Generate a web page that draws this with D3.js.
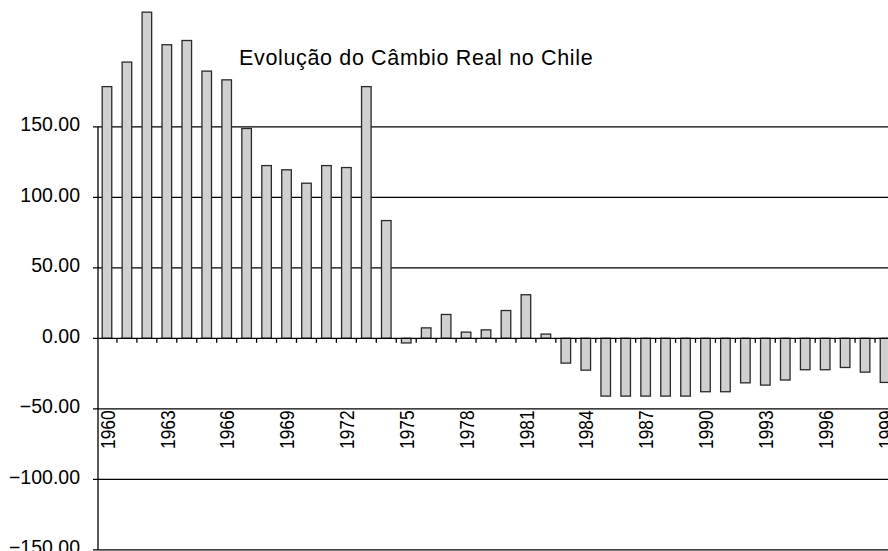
<!DOCTYPE html>
<html>
<head>
<meta charset="utf-8">
<script src="https://cdn.jsdelivr.net/npm/d3@7"></script>
<style>
  html, body { margin: 0; padding: 0; background: #fff; }
  svg { display: block; }
  text { font-family: "Liberation Sans", Arial, Helvetica, sans-serif; fill: #000; }
</style>
</head>
<body>
<svg id="chart" width="888" height="551"></svg>
<script>
const title = "Evolução do Câmbio Real no Chile";
const years = d3.range(1960, 2000);
const values = [
  178.5, 195.9, 231.3, 208.2, 211.2, 189.5, 183.3, 148.8, 122.5, 119.5,
  110.0, 122.5, 121.1, 178.5, 83.5, -3.3, 7.4, 16.9, 4.4, 6.0,
  19.7, 30.9, 3.0, -17.6, -22.6, -41.0, -41.0, -41.0, -41.0, -41.0,
  -37.9, -37.9, -31.6, -33.2, -29.6, -22.3, -22.3, -20.7, -24.0, -31.3
];
const yTicks = [150, 100, 50, 0, -50, -100, -150];
const yearLabels = [1960, 1963, 1966, 1969, 1972, 1975, 1978, 1981, 1984, 1987, 1990, 1993, 1996, 1999];

const svg = d3.select("#chart");
const W = 888;
const axisX = 98;

const y = d3.scaleLinear().domain([-150, 250]).range([549.8, 549.8 - 400 * 1.41]);
const x = d3.scaleBand().domain(years).range([97, 895]).paddingInner(0.52).paddingOuter(0.26);

// gridlines
svg.append("g").selectAll("line")
  .data(yTicks.filter(d => d !== 0))
  .join("line")
  .attr("x1", axisX - 5).attr("x2", W)
  .attr("y1", d => y(d)).attr("y2", d => y(d))
  .attr("stroke", "#000").attr("stroke-width", 1.3);

// y tick labels
svg.append("g").selectAll("text")
  .data(yTicks)
  .join("text")
  .attr("x", 80)
  .attr("y", d => y(d) + 4.5)
  .attr("text-anchor", "end")
  .style("font-size", "19.5px")
  .text(d => d3.format(".2f")(d));

// bars
svg.append("g").selectAll("rect")
  .data(years.map((yr, i) => ({ yr, v: values[i] })))
  .join("rect")
  .attr("x", d => x(d.yr))
  .attr("width", x.bandwidth())
  .attr("y", d => y(Math.max(0, d.v)))
  .attr("height", d => Math.abs(y(d.v) - y(0)))
  .attr("fill", "#d0d0d0")
  .attr("stroke", "#2a2a2a")
  .attr("stroke-width", 1.3);

// y axis line
svg.append("line")
  .attr("x1", axisX).attr("x2", axisX)
  .attr("y1", y(150)).attr("y2", y(-150))
  .attr("stroke", "#000").attr("stroke-width", 1.3);

// zero (category) axis
svg.append("line")
  .attr("x1", axisX - 5).attr("x2", W)
  .attr("y1", y(0)).attr("y2", y(0))
  .attr("stroke", "#000").attr("stroke-width", 1.3);

// category tick marks at band boundaries
const step = x.step();
svg.append("g").selectAll("line")
  .data(years.slice(1))
  .join("line")
  .attr("x1", d => x(d) - x.paddingInner() * step / 2)
  .attr("x2", d => x(d) - x.paddingInner() * step / 2)
  .attr("y1", y(0)).attr("y2", y(0) + 4.5)
  .attr("stroke", "#000").attr("stroke-width", 1.3);

// year labels (rotated)
svg.append("g").selectAll("text")
  .data(yearLabels)
  .join("text")
  .attr("transform", d => `translate(${x(d) + x.bandwidth() / 2 + 0.5},${y(-50) + 1.5}) rotate(-90) scale(0.87,1)`)
  .attr("text-anchor", "end")
  .attr("dy", "0.36em")
  .style("font-size", "20px")
  .text(d => d);

// title
svg.append("text")
  .attr("x", 239).attr("y", 65)
  .style("font-size", "21.5px")
  .style("letter-spacing", "0.65px")
  .text(title);
</script>
</body>
</html>
